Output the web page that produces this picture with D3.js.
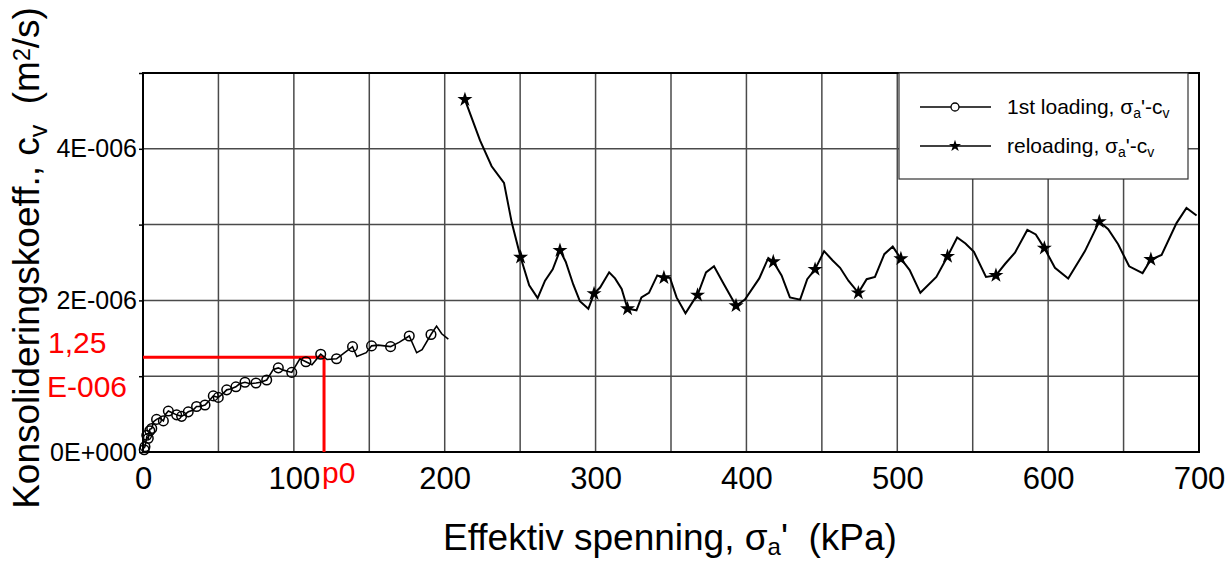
<!DOCTYPE html>
<html>
<head>
<meta charset="utf-8">
<script src="https://cdn.jsdelivr.net/npm/d3@7"></script>
<style>
  body { margin: 0; background: #fff; }
  text { font-family: "Liberation Sans", Arial, sans-serif; }
</style>
</head>
<body>
<script>
// cv values are in units of 1E-006 m2/s
const xTicks = [0, 100, 200, 300, 400, 500, 600, 700];
const xGrid = [0, 50, 100, 150, 200, 250, 300, 350, 400, 450, 500, 550, 600, 650, 700];
const yGrid = [0, 1, 2, 3, 4, 5];
const yTickLabels = { 0: '0E+000', 2: '2E-006', 4: '4E-006' };

// 1st loading: line with wiggles, circles at measured points
const firstLine = [[0.5,0.05],[1.3,0.07],[2.5,0.2],[3.5,0.18],[4.5,0.3],[5.8,0.31],[7,0.4],[9,0.43],[11,0.45],
  [13.5,0.41],[15,0.5],[16.8,0.54],[19,0.52],[22.3,0.49],[25.6,0.47],[28,0.5],[30,0.53],[33,0.55],[35.5,0.6],
  [38,0.6],[41.1,0.62],[44,0.68],[46.6,0.74],[49.9,0.72],[53,0.77],[55.5,0.82],[58,0.83],[61.6,0.86],[64,0.9],
  [67.6,0.92],[71,0.9],[74.9,0.91],[78,0.92],[82,0.95],[86.4,1.09],[89.7,1.11],[93,1.08],[98.6,1.05],[104,1.23],
  [108,1.19],[112,1.15],[117.8,1.29],[122,1.22],[128.3,1.23],[133,1.3],[138.9,1.39],[141.7,1.26],[148,1.31],
  [151.5,1.40],[156,1.41],[164.1,1.39],[170,1.45],[176.5,1.53],[181.4,1.31],[185,1.35],[190.9,1.55],[194.6,1.66],
  [198,1.56],[202.4,1.49]];
const firstMarkers = [[0.8,0.03],[1.3,0.07],[2.5,0.22],[3.5,0.18],[4.5,0.28],[5.8,0.31],[9,0.43],[13.5,0.41],
  [16.8,0.54],[22.3,0.49],[25.6,0.47],[30,0.53],[35.5,0.6],[41.1,0.62],[46.6,0.74],[49.9,0.72],[55.5,0.82],
  [61.6,0.86],[67.6,0.92],[74.9,0.91],[82,0.95],[89.7,1.11],[98.6,1.05],[108,1.19],[117.8,1.29],[128.3,1.23],
  [138.9,1.39],[151.5,1.40],[164.1,1.39],[176.5,1.53],[190.9,1.55]];

// reloading: line and star markers
const reloadLine = [[213.4,4.65],[223.4,4.11],[231.1,3.77],[239.3,3.55],[244.4,3.03],[250.3,2.57],[256,2.20],
  [261.6,2.03],[266.5,2.26],[271.6,2.41],[276.4,2.66],[280.2,2.51],[285.2,2.21],[289.6,1.99],[295.2,1.89],
  [299,2.09],[303,2.17],[309,2.37],[312.9,2.29],[317.3,2.15],[321.2,1.89],[327.1,1.87],[330.4,2.04],[335.4,2.10],
  [340.9,2.33],[345.3,2.30],[349.3,2.30],[353.7,2.04],[359.6,1.83],[364.7,1.99],[367.6,2.07],[373.2,2.37],
  [378.5,2.45],[384.6,2.23],[393.1,1.93],[399,2.01],[408.5,2.29],[414.5,2.56],[417.8,2.51],[423.3,2.33],
  [428.8,2.04],[435.6,2.01],[440.3,2.28],[445.5,2.41],[451.5,2.65],[457,2.53],[462.1,2.43],[467.6,2.26],
  [474.2,2.10],[479.7,2.28],[485.2,2.31],[491.4,2.61],[497,2.71],[502.4,2.55],[508.2,2.40],[515.3,2.10],
  [525.9,2.31],[533.3,2.58],[539.7,2.83],[545.2,2.75],[550.8,2.64],[558.8,2.31],[565.4,2.33],[571.4,2.48],
  [578,2.63],[586.2,2.93],[591.8,2.87],[597.5,2.69],[604.5,2.43],[613.3,2.29],[624.4,2.65],[633.9,3.04],
  [639.8,2.94],[646.4,2.74],[653.7,2.45],[662.6,2.36],[668.1,2.54],[675.2,2.60],[685.1,3.02],[691.7,3.22],
  [698.4,3.12]];
const reloadMarkers = [[213.4,4.65],[250.3,2.57],[276.4,2.66],[299,2.09],[321.2,1.89],[345.3,2.30],[367.6,2.07],
  [393.1,1.93],[417.8,2.51],[445.5,2.41],[474.2,2.10],[502.4,2.55],[533.3,2.58],[565.4,2.33],[597.5,2.69],
  [633.9,3.04],[668.1,2.54]];

// preconsolidation marking
const p0 = 120;
const cvAtP0 = 1.25;

const svgWidth = 1231;
const svgHeight = 562;
const margin = { top: 73, right: 32, bottom: 110, left: 143 };
const chartWidth = svgWidth - margin.left - margin.right;
const chartHeight = svgHeight - margin.top - margin.bottom;

const svg = d3.select('body')
  .append('svg')
  .attr('width', svgWidth)
  .attr('height', svgHeight);

const chart = svg.append('g')
  .attr('transform', `translate(${margin.left},${margin.top})`);

const xScale = d3.scaleLinear().domain([0, 700]).range([0, chartWidth]);
const yScale = d3.scaleLinear().domain([0, 5]).range([chartHeight, 0]);

// grid
chart.append('g').selectAll('line')
  .data(xGrid)
  .enter().append('line')
  .attr('x1', d => xScale(d)).attr('x2', d => xScale(d))
  .attr('y1', 0).attr('y2', chartHeight)
  .attr('stroke', '#4a4a4a').attr('stroke-width', 1.5);

chart.append('g').selectAll('line')
  .data(yGrid)
  .enter().append('line')
  .attr('x1', 0).attr('x2', chartWidth)
  .attr('y1', d => yScale(d)).attr('y2', d => yScale(d))
  .attr('stroke', '#4a4a4a').attr('stroke-width', 1.5);

// axes
const xAxis = chart.append('g')
  .attr('transform', `translate(0,${chartHeight})`)
  .call(d3.axisBottom(xScale).tickValues(xTicks).tickSize(0).tickPadding(15).tickFormat(d3.format('d')));
xAxis.select('.domain').remove();
xAxis.selectAll('text')
  .attr('fill', '#000')
  .style('font-size', '31px');

const yAxis = chart.append('g')
  .call(d3.axisLeft(yScale).tickValues(yGrid).tickSize(4).tickPadding(2)
    .tickFormat(d => yTickLabels[d] || ''));
yAxis.select('.domain').remove();
yAxis.selectAll('line').attr('stroke', '#000').attr('stroke-width', 1.5);
yAxis.selectAll('text')
  .attr('fill', '#000')
  .style('font-size', '25px');

// plot frame
chart.append('rect')
  .attr('width', chartWidth)
  .attr('height', chartHeight)
  .attr('fill', 'none')
  .attr('stroke', '#000')
  .attr('stroke-width', 2);

// red p0 lines
chart.append('path')
  .attr('d', `M${xScale(0)},${yScale(cvAtP0)}H${xScale(p0)}V${yScale(0)}`)
  .attr('fill', 'none')
  .attr('stroke', '#ff0000')
  .attr('stroke-width', 3);

const line = d3.line()
  .x(d => xScale(d[0]))
  .y(d => yScale(d[1]));

chart.append('path')
  .datum(firstLine)
  .attr('d', line)
  .attr('fill', 'none')
  .attr('stroke', '#000')
  .attr('stroke-width', 1.6);

chart.selectAll('.c-marker')
  .data(firstMarkers)
  .enter().append('circle')
  .attr('class', 'c-marker')
  .attr('cx', d => xScale(d[0]))
  .attr('cy', d => yScale(d[1]))
  .attr('r', 4.8)
  .attr('fill', 'none')
  .attr('stroke', '#000')
  .attr('stroke-width', 1.5);

chart.append('path')
  .datum(reloadLine)
  .attr('d', line)
  .attr('fill', 'none')
  .attr('stroke', '#000')
  .attr('stroke-width', 2);

const star = d3.symbol(d3.symbolStar).size(70);
chart.selectAll('.s-marker')
  .data(reloadMarkers)
  .enter().append('path')
  .attr('class', 's-marker')
  .attr('transform', d => `translate(${xScale(d[0])},${yScale(d[1])})`)
  .attr('d', star)
  .attr('fill', '#000');

// red labels
svg.append('text')
  .attr('x', 48).attr('y', 353)
  .attr('fill', '#ff0000')
  .style('font-size', '30px')
  .text('1,25');
svg.append('text')
  .attr('x', 47).attr('y', 397)
  .attr('fill', '#ff0000')
  .style('font-size', '30px')
  .text('E-006');
svg.append('text')
  .attr('x', margin.left + xScale(p0) - 2).attr('y', 483)
  .attr('fill', '#ff0000')
  .style('font-size', '30px')
  .text('p0');

// legend
const legend = svg.append('g')
  .attr('transform', 'translate(899,73)');

legend.append('rect')
  .attr('width', 289)
  .attr('height', 106)
  .attr('fill', '#fff')
  .attr('stroke', '#333')
  .attr('stroke-width', 1.2);

const legendItems = [
  { name: '1st loading, ', marker: 'circle' },
  { name: 'reloading, ', marker: 'star' }
];

const items = legend.selectAll('.legend-item')
  .data(legendItems)
  .enter().append('g')
  .attr('class', 'legend-item')
  .attr('transform', (d, i) => `translate(0,${34 + i * 39})`);

items.append('line')
  .attr('x1', 21).attr('x2', 92)
  .attr('stroke', '#000').attr('stroke-width', 1.5);

items.filter(d => d.marker === 'circle').append('circle')
  .attr('cx', 56).attr('r', 4)
  .attr('fill', '#fff').attr('stroke', '#000').attr('stroke-width', 1.3);

items.filter(d => d.marker === 'star').append('path')
  .attr('transform', 'translate(56,0)')
  .attr('d', d3.symbol(d3.symbolStar).size(45))
  .attr('fill', '#000');

const lt = items.append('text')
  .attr('x', 108).attr('y', 7)
  .style('font-size', '21px');
lt.append('tspan').text(d => d.name + 'σ');
lt.append('tspan').attr('baseline-shift', '-25%').style('font-size', '14px').text('a');
lt.append('tspan').text("'-c");
lt.append('tspan').attr('baseline-shift', '-25%').style('font-size', '14px').text('v');

// axis titles
const xt = svg.append('text')
  .attr('x', 670).attr('y', 550)
  .attr('text-anchor', 'middle')
  .attr('xml:space', 'preserve')
  .style('font-size', '37px');
xt.append('tspan').text('Effektiv spenning, σ');
xt.append('tspan').attr('baseline-shift', '-20%').style('font-size', '24px').text('a');
xt.append('tspan').text("'  (kPa)");

const yt = svg.append('text')
  .attr('transform', 'translate(39,258) rotate(-90)')
  .attr('text-anchor', 'middle')
  .attr('xml:space', 'preserve')
  .style('font-size', '37px');
yt.append('tspan').text('Konsolideringskoeff., c');
yt.append('tspan').attr('baseline-shift', '-30%').style('font-size', '25px').text('v');
yt.append('tspan').text('  (m');
yt.append('tspan').attr('baseline-shift', '40%').style('font-size', '23px').text('2');
yt.append('tspan').text('/s)');
</script>
</body>
</html>
